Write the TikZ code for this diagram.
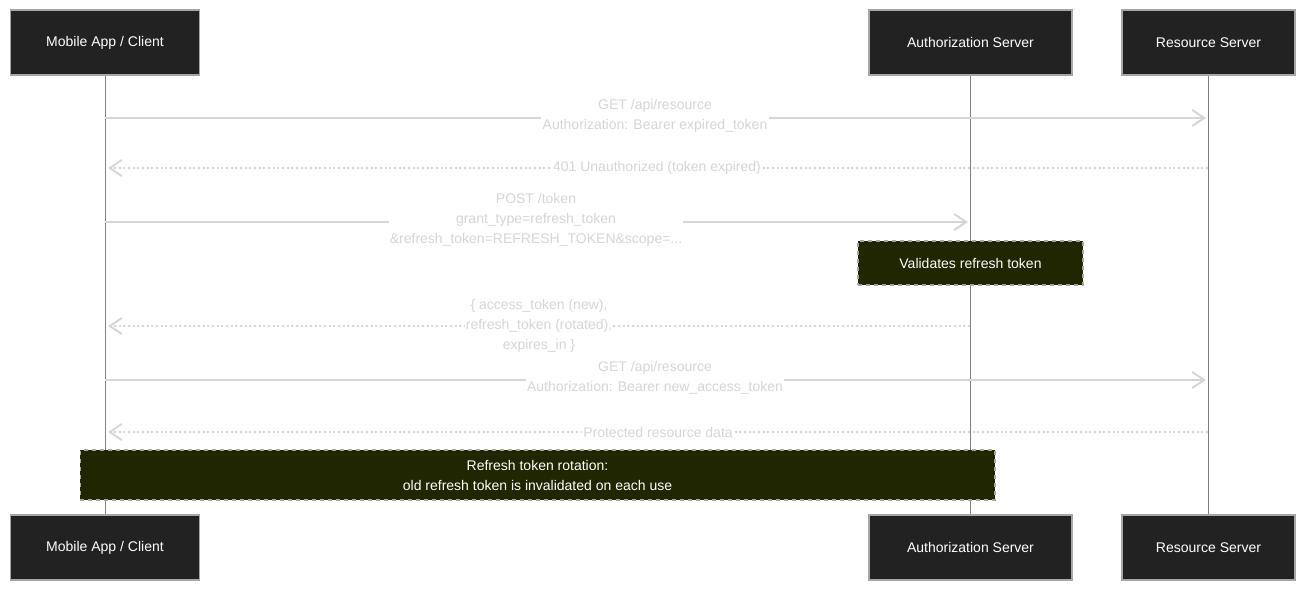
\documentclass[tikz,border=0pt]{standalone}
\usepackage{fontspec}
\setmainfont{Liberation Sans}
\usetikzlibrary{arrows.meta}
\definecolor{msggray}{HTML}{D6D6D6}
\definecolor{notefill}{HTML}{1F2600}
\definecolor{actorfill}{HTML}{222222}
\tikzset{
  actor/.style={draw=gray!70, line width=1.2pt, fill=actorfill, text=white, minimum width=#1, minimum height=48.75pt, font=\fontsize{10.5}{13}\selectfont},
  note/.style={draw=gray!70, dashed, line width=1pt, fill=notefill, text=white, align=center, font=\fontsize{10.5}{15}\selectfont},
  msg/.style={fill=white, text=msggray, align=center, inner sep=1pt, font=\fontsize{10.5}{15}\selectfont},
  call/.style={draw=msggray, line width=1.5pt, -{Straight Barb[length=9pt,width=12pt]}},
  reply/.style={draw=msggray, line width=1.5pt, dotted, -{Straight Barb[length=9pt,width=12pt]}}
}
\begin{document}
\begin{tikzpicture}[x=0.75pt,y=-0.75pt]
\useasboundingbox[fill=white] (0,0) rectangle (1304,590);

% lifelines
\draw[gray] (105,75) -- (105,515);
\draw[gray] (970,75) -- (970,515);
\draw[gray] (1208,75) -- (1208,515);

\node[actor=141.75pt] (ct) at (105,42.5) {Mobile App / Client};
\node[actor=152.25pt] (as) at (970.5,42.5) {Authorization Server};
\node[actor=129.75pt] (rs) at (1208.5,42.5) {Resource Server};
\node[actor=141.75pt] (cb) at (105,547.5) {Mobile App / Client};
\node[actor=152.25pt] (ab) at (970.5,547.5) {Authorization Server};
\node[actor=129.75pt] (rb) at (1208.5,547.5) {Resource Server};

\coordinate (c1) at (105,118); \coordinate (r1) at (1206,118);
\coordinate (r2) at (1208,168); \coordinate (c2) at (108,168);
\coordinate (c3) at (105,222); \coordinate (a3) at (968,222);
\coordinate (a5) at (970,326); \coordinate (c5) at (108,326);
\coordinate (c6) at (105,380); \coordinate (r6) at (1206,380);
\coordinate (r7) at (1208,432); \coordinate (c7) at (108,432);

\draw[call] (c1) -- (r1);
\node[msg] (m1) at (655,116) {GET /api/resource\\Authorization: Bearer expired\_token};
\draw[reply] (r2) -- (c2);
\node[msg] (m2) at (657,168) {401 Unauthorized (token expired)};
\draw[call] (c3) -- (a3);
\node[msg] (m3) at (536,220) {POST /token\\grant\_type=refresh\_token\\\&refresh\_token=REFRESH\_TOKEN\&scope=...};
\node[note, minimum width=168.75pt, minimum height=33pt] (n1) at (970.5,263) {Validates refresh token};
\draw[reply] (a5) -- (c5);
\node[msg] (m5) at (539,326) {\{ access\_token (new),\\refresh\_token (rotated),\\expires\_in \}};
\draw[call] (c6) -- (r6);
\node[msg] (m6) at (655,378) {GET /api/resource\\Authorization: Bearer new\_access\_token};
\draw[reply] (r7) -- (c7);
\node[msg] (m7) at (658,432) {Protected resource data};
\node[note, minimum width=686pt, minimum height=37.5pt] (n2) at (537.5,475) {Refresh token rotation:\\old refresh token is invalidated on each use};
\end{tikzpicture}
\end{document}
